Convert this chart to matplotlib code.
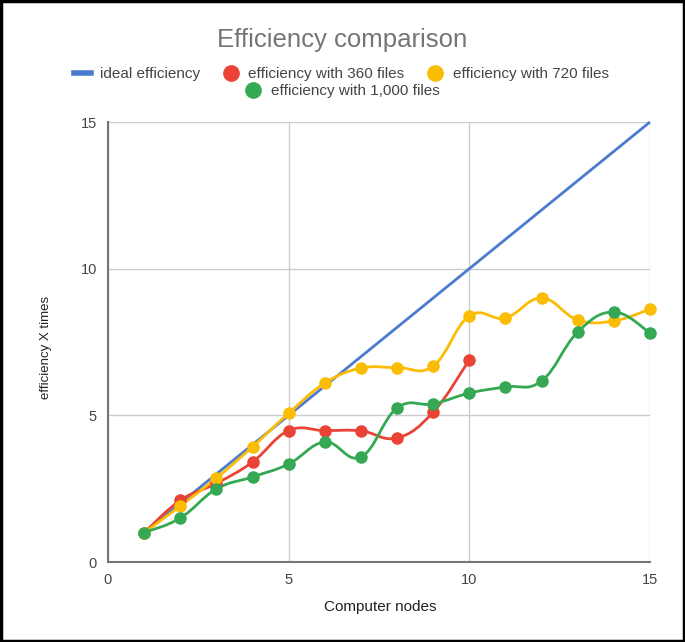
import matplotlib
matplotlib.use("Agg")
import matplotlib.pyplot as plt
from matplotlib.path import Path
from matplotlib.patches import PathPatch, Rectangle
from matplotlib.lines import Line2D
import numpy as np

plt.rcParams['font.family'] = ['Liberation Sans', 'DejaVu Sans']

nodes_ideal = [1, 15]
ideal = [1, 15]

nodes_360 = [1, 2, 3, 4, 5, 6, 7, 8, 9, 10]
eff_360 = [1.0, 2.1, 2.68, 3.41, 4.48, 4.48, 4.47, 4.23, 5.11, 6.89]

nodes_720 = [1, 2, 3, 4, 5, 6, 7, 8, 9, 10, 11, 12, 13, 14, 15]
eff_720 = [1.0, 1.91, 2.86, 3.93, 5.07, 6.1, 6.61, 6.63, 6.68, 8.39, 8.32, 9.0, 8.25, 8.22, 8.62]

nodes_1000 = [1, 2, 3, 4, 5, 6, 7, 8, 9, 10, 11, 12, 13, 14, 15]
eff_1000 = [1.0, 1.5, 2.49, 2.9, 3.34, 4.09, 3.58, 5.25, 5.39, 5.76, 5.97, 6.17, 7.84, 8.52, 7.81]

labels = ["ideal efficiency", "efficiency with 360 files",
          "efficiency with 720 files", "efficiency with 1,000 files"]
colors = ["#4a7bd0", "#ea4335", "#fbbc04", "#34a853"]


def smooth_path(xs, ys, t=0.2):
    xs = np.asarray(xs, float)
    ys = np.asarray(ys, float)
    n = len(xs)
    verts = [(xs[0], ys[0])]
    codes = [Path.MOVETO]
    for i in range(n - 1):
        p0 = np.array([xs[max(i - 1, 0)], ys[max(i - 1, 0)]])
        p1 = np.array([xs[i], ys[i]])
        p2 = np.array([xs[i + 1], ys[i + 1]])
        p3 = np.array([xs[min(i + 2, n - 1)], ys[min(i + 2, n - 1)]])
        c1 = p1 + (p2 - p0) * t
        c2 = p2 - (p3 - p1) * t
        verts += [tuple(c1), tuple(c2), tuple(p2)]
        codes += [Path.CURVE4] * 3
    return Path(verts, codes)


fig = plt.figure(figsize=(6.85, 6.42), dpi=100)
ax = fig.add_axes([108 / 685, 1 - 562 / 642, 542 / 685, 440 / 642])

ax.set_xlim(0, 15)
ax.set_ylim(0, 15)
ax.set_xticks([0, 5, 10, 15])
ax.set_yticks([0, 5, 10, 15])
ax.grid(True, color="#cccccc", linewidth=1)
ax.set_axisbelow(True)
for s in ["top", "right"]:
    ax.spines[s].set_visible(False)
for s in ["left", "bottom"]:
    ax.spines[s].set_color("#757575")
    ax.spines[s].set_linewidth(1.5)
ax.tick_params(length=0, labelsize=10.5, labelcolor="#444444", pad=8)

ax.plot(nodes_ideal, ideal, color=colors[0], lw=2, solid_capstyle="butt", clip_on=False, zorder=3)

series = [(nodes_360, eff_360, colors[1]), (nodes_720, eff_720, colors[2]),
          (nodes_1000, eff_1000, colors[3])]
for xs, ys, c in series:
    ax.add_patch(PathPatch(smooth_path(xs, ys), facecolor="none", edgecolor=c, lw=2,
                           clip_on=False, zorder=3))
    ax.plot(xs, ys, linestyle="none", marker="o", ms=8, color=c, mec=c, clip_on=False, zorder=4)

fig.text(380 / 685, 1 - 607 / 642, "Computer nodes", ha="center", va="center",
         fontsize=11, color="#222222")
fig.text(46 / 685, 1 - 347 / 642, "efficiency X times", ha="center", va="center",
         rotation=90, fontsize=9.5, color="#222222")

fig.text(342 / 685, 1 - 40 / 642, "Efficiency comparison", ha="center", va="center",
         fontsize=18.5, color="#757575")

h1 = [Line2D([], [], color=colors[0], lw=4),
      Line2D([], [], ls="none", marker="o", ms=11, color=colors[1]),
      Line2D([], [], ls="none", marker="o", ms=11, color=colors[2])]
leg1 = fig.legend(h1, labels[:3], loc="center", bbox_to_anchor=(341.5 / 685, 1 - 74 / 642), ncol=3,
                  frameon=False, fontsize=11, handlelength=1.1, handletextpad=0.6, columnspacing=1.45,
                  labelcolor="#444444", borderpad=0, borderaxespad=0)
h2 = [Line2D([], [], ls="none", marker="o", ms=11, color=colors[3])]
leg2 = fig.legend(h2, labels[3:], loc="center", bbox_to_anchor=(342 / 685, 1 - 91 / 642), ncol=1,
                  frameon=False, fontsize=11, handlelength=1.1, handletextpad=0.6, labelcolor="#444444",
                  borderpad=0, borderaxespad=0)

fig.patches.append(Rectangle((0.002, 0.002), 0.996, 0.996, transform=fig.transFigure,
                             fill=False, edgecolor="black", lw=2.5))

fig.savefig("out.png", dpi=100, facecolor="white")
